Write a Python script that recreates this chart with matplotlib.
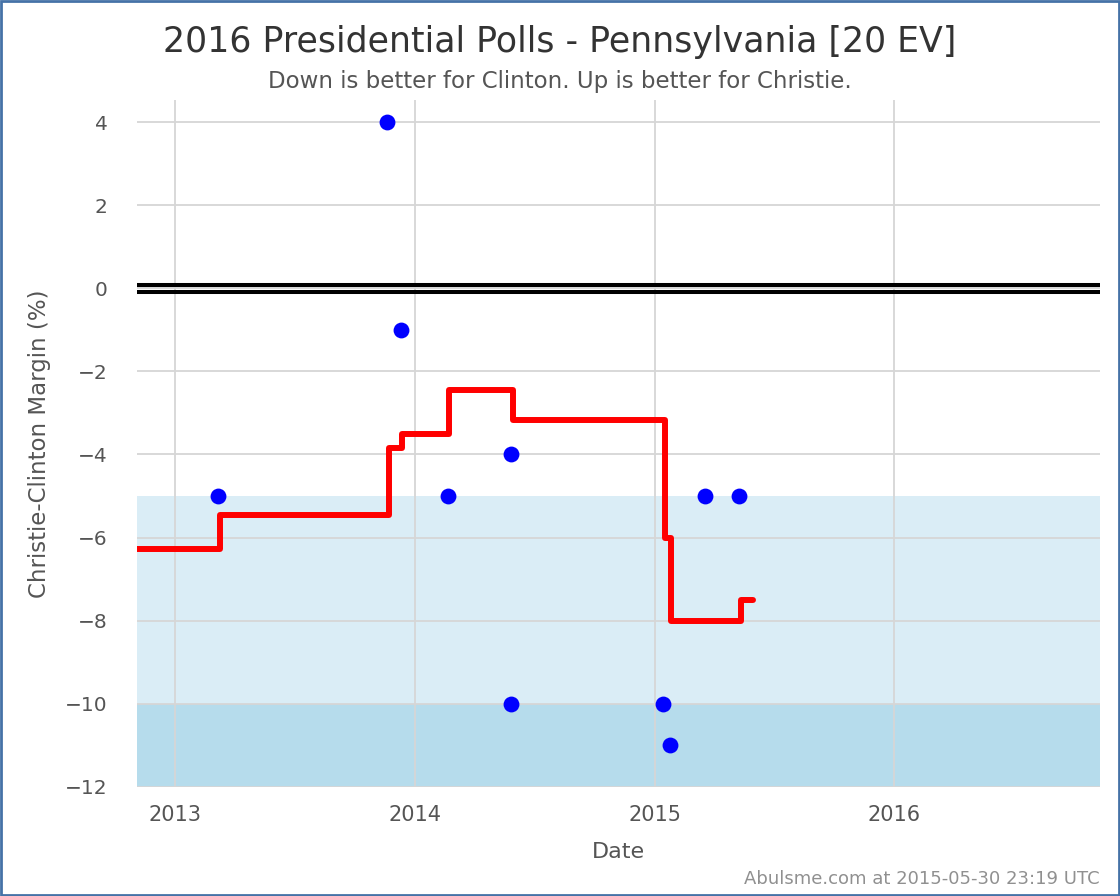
import matplotlib
matplotlib.use("Agg")
import matplotlib.pyplot as plt
from matplotlib.patches import Rectangle
import pandas as pd

# poll results (Christie - Clinton margin)
poll_dates = ["2013-03-07", "2013-11-20", "2013-12-11", "2014-02-21", "2014-05-27",
              "2014-05-27", "2015-01-14", "2015-01-25", "2015-03-19", "2015-05-09"]
poll_margins = [-5, 4, -1, -5, -4, -10, -10, -11, -5, -5]

# running average (step line)
avg_dates = ["2012-11-01", "2013-03-10", "2013-11-22", "2013-12-12", "2014-02-22",
             "2014-05-31", "2015-01-17", "2015-01-26", "2015-05-12", "2015-05-31"]
avg_margins = [-6.27, -5.45, -3.84, -3.5, -2.45, -3.17, -6.0, -8.0, -7.5, -7.5]

year_ticks = ["2013-01-01", "2014-01-01", "2015-01-01", "2016-01-01"]
year_labels = ["2013", "2014", "2015", "2016"]
y_ticks = [-12, -10, -8, -6, -4, -2, 0, 2, 4]

poll_dates = pd.to_datetime(poll_dates)
avg_dates = pd.to_datetime(avg_dates)
year_ticks = pd.to_datetime(year_ticks)

fig = plt.figure(figsize=(11.2, 8.96), dpi=100)
ax = fig.add_axes([0.1223, 0.1217, 0.8597, 0.7667])

ax.axhspan(-10, -5, color="#daedf6", zorder=0.1, lw=0)
ax.axhspan(-12, -10, color="#b6dcec", zorder=0.1, lw=0)

ax.set_axisbelow(True)
ax.grid(True, color="#d6d6d6", linewidth=1.3)

ax.axhline(0.08, color="black", linewidth=2.9, zorder=2)
ax.axhline(-0.08, color="black", linewidth=2.9, zorder=2)

ax.plot(avg_dates, avg_margins, color="red", linewidth=4.3, drawstyle="steps-post",
        solid_joinstyle="round", solid_capstyle="round", zorder=3)
ax.scatter(poll_dates, poll_margins, s=130, color="blue", zorder=4, linewidths=0)

ax.set_xlim(pd.Timestamp("2012-11-04"), pd.Timestamp("2016-11-09"))
ax.set_ylim(-12, 4.53)
ax.set_xticks(year_ticks)
ax.set_xticklabels(year_labels)
ax.set_yticks(y_ticks)
ax.tick_params(axis="both", length=0, colors="#555555")
ax.tick_params(axis="y", labelsize=14.5, pad=21)
ax.tick_params(axis="x", labelsize=15, pad=13)
for s in ax.spines.values():
    s.set_visible(False)

ax.set_xlabel("Date", fontsize=16, color="#555555", labelpad=12)
ax.set_ylabel("Christie-Clinton Margin (%)", fontsize=16.5, color="#555555", labelpad=10)

fig.text(0.5, 0.953, "2016 Presidential Polls - Pennsylvania [20 EV]", ha="center", va="center",
         fontsize=25, color="#333333")
fig.text(0.5, 0.909, "Down is better for Clinton. Up is better for Christie.", ha="center",
         va="center", fontsize=16.5, color="#555555")
fig.text(0.982, 0.019, "Abulsme.com at 2015-05-30 23:19 UTC", ha="right", va="center",
         fontsize=13, color="#909090")

fig.patches.append(Rectangle((0.001, 0.001), 0.998, 0.998, transform=fig.transFigure,
                             fill=False, edgecolor="#4572a7", linewidth=2))

fig.savefig("out.png", dpi=100, facecolor="white")
